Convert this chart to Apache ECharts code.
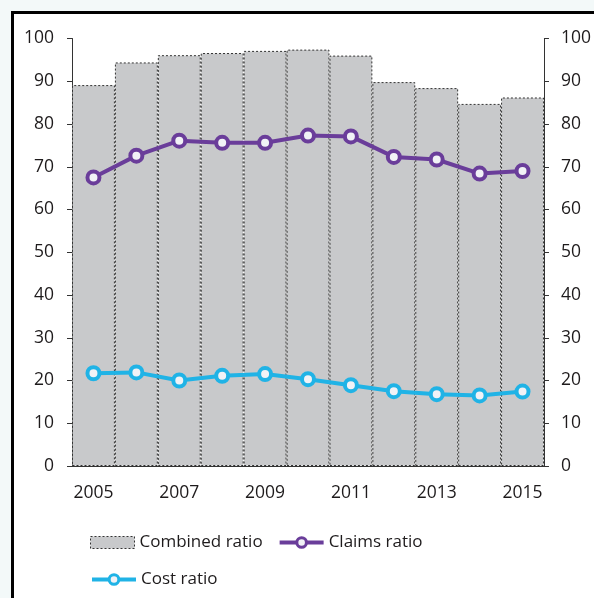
<!DOCTYPE html>
<html>
<head>
<meta charset="utf-8">
<script src="https://cdn.jsdelivr.net/npm/echarts@6/dist/echarts.min.js"></script>
<style>
html,body{margin:0;padding:0;background:#f3f9f9;width:594px;height:598px;overflow:hidden;}
#frame{position:absolute;left:11px;top:11px;width:600px;height:600px;border:3px solid #000;background:#fff;}
#chart{position:absolute;left:0;top:0;width:594px;height:598px;}
</style>
</head>
<body>
<div id="frame"></div>
<div id="chart"></div>
<script>
const years = ['2005','2006','2007','2008','2009','2010','2011','2012','2013','2014','2015'];
const combinedRatio = [89.1, 94.4, 96.1, 96.6, 97.1, 97.4, 96.0, 89.8, 88.4, 84.7, 86.2];
const claimsRatio = [67.5, 72.6, 76.1, 75.6, 75.6, 77.3, 77.1, 72.3, 71.7, 68.4, 69.0];
const costRatio = [21.7, 21.9, 20.0, 21.1, 21.5, 20.3, 18.9, 17.5, 16.8, 16.5, 17.4];

const FONT = 'Open Sans';
const TXT = '#1e1b1c';
const PURPLE = '#6a3d9a';
const CYAN = '#20b3e6';
const chart = echarts.init(document.getElementById('chart'), null, {renderer:'canvas'});
const yAxisBase = {
  type:'value', min:0, max:100, interval:10,
  axisLine:{show:true, lineStyle:{color:'#333', width:1}},
  axisTick:{show:true, length:5, lineStyle:{color:'#333'}},
  splitLine:{show:false},
  axisLabel:{fontFamily:FONT, fontSize:17.5, color:TXT}
};
const legendText = {fontFamily:FONT, fontSize:17, color:TXT};
chart.setOption({
  animation:false,
  backgroundColor:'transparent',
  grid:{left:72, right:50, top:38.5, bottom:132, containLabel:false},
  legend:[
    {data:[
      {name:'Combined ratio', icon:'rect', itemStyle:{color:'#c8c9cb', borderColor:'#333', borderWidth:1, borderType:[2,2]}},
      {name:'Claims ratio', lineStyle:{width:4, color:PURPLE}, itemStyle:{borderWidth:3, borderColor:PURPLE, color:'#f1f2f6'}}
     ],
     left:90, top:534, padding:0, itemWidth:44, itemHeight:12, itemGap:15, textStyle:legendText},
    {data:[
      {name:'Cost ratio', lineStyle:{width:4, color:CYAN}, itemStyle:{borderWidth:3, borderColor:CYAN, color:'#f1f2f6'}}
     ],
     left:90, top:571, padding:0, itemWidth:44, itemHeight:12, itemGap:15, textStyle:legendText}
  ],
  xAxis:{
    type:'category', data:years,
    axisLine:{show:true, lineStyle:{color:'#333', width:1}},
    axisTick:{show:false},
    axisLabel:{interval:1, fontFamily:FONT, fontSize:17.5, color:TXT, margin:18}
  },
  yAxis:[
    Object.assign({}, yAxisBase, {position:'left', axisLabel:Object.assign({}, yAxisBase.axisLabel, {margin:18})}),
    Object.assign({}, yAxisBase, {position:'right', axisLabel:Object.assign({}, yAxisBase.axisLabel, {margin:17})})
  ],
  series:[
    {name:'Combined ratio', type:'bar', data:combinedRatio, barCategoryGap:'0%', barGap:'0%',
     itemStyle:{color:'#c8c9cb', borderColor:'#333', borderWidth:1, borderType:[2,2]}},
    {name:'Claims ratio', type:'line', data:claimsRatio, symbol:'circle', symbolSize:12, showAllSymbol:true,
     lineStyle:{color:PURPLE, width:4},
     itemStyle:{color:'#f1f2f6', borderColor:PURPLE, borderWidth:4}},
    {name:'Cost ratio', type:'line', data:costRatio, symbol:'circle', symbolSize:12, showAllSymbol:true,
     lineStyle:{color:CYAN, width:4},
     itemStyle:{color:'#f1f2f6', borderColor:CYAN, borderWidth:4}}
  ]
});
</script>
</body>
</html>
